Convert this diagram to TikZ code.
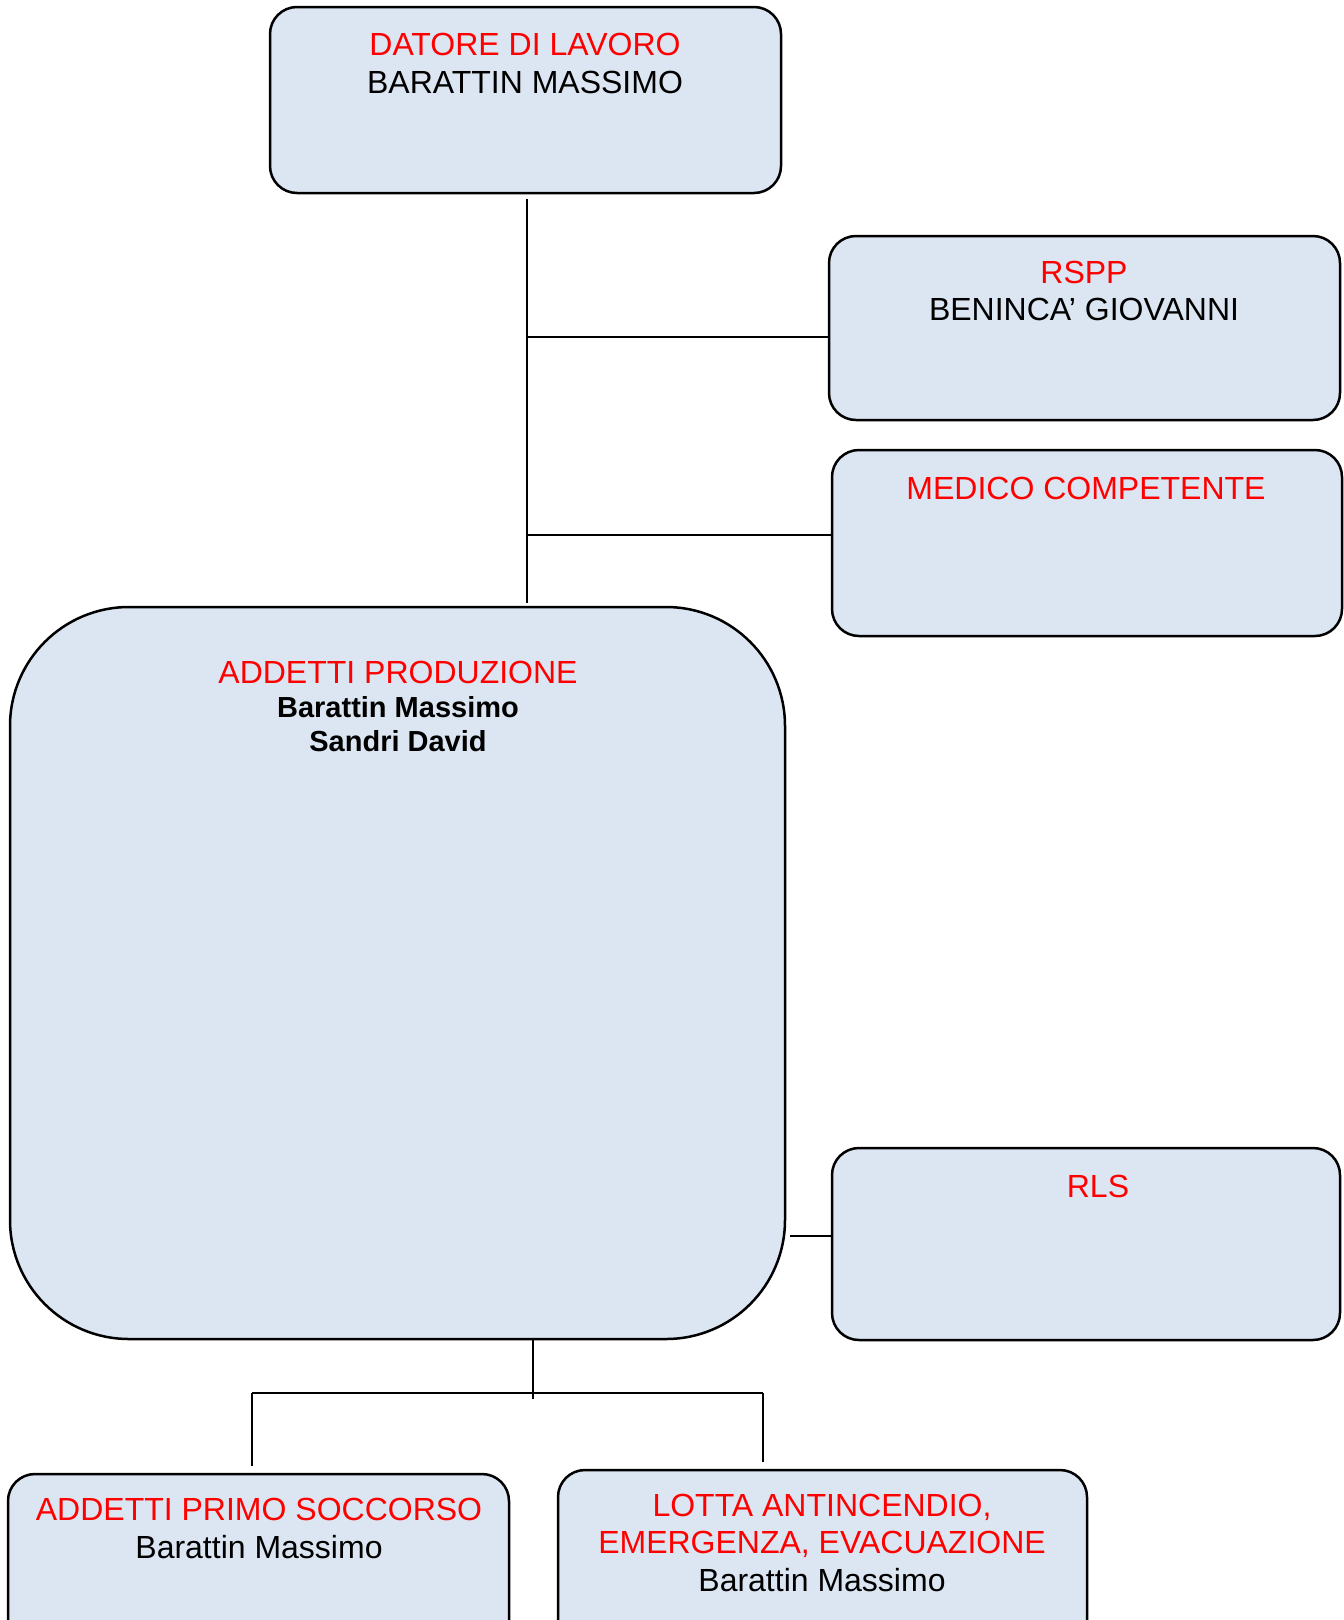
\documentclass[tikz,border=0pt]{standalone}
\usepackage{fontspec}
\setmainfont{Liberation Sans}
\usetikzlibrary{positioning,calc}
\definecolor{boxfill}{RGB}{220,230,242}

\begin{document}
\begin{tikzpicture}[
  x=1pt, y=-1pt,
  font=\fontsize{32}{38}\selectfont,
  box/.style={rectangle, draw=black, fill=boxfill, line width=2.5pt, rounded corners=27pt, inner sep=0pt},
  role/.style={text=red, anchor=base, inner sep=0pt},
  who/.style={text=black, anchor=base, inner sep=0pt},
  boldwho/.style={who, font=\fontsize{29}{34}\selectfont\bfseries},
  link/.style={draw=black, line width=1.3pt}]

\useasboundingbox (0,0) rectangle (1344,1620);
\clip (0,0) rectangle (1344,1620);

% boxes
\node[box, minimum width=511pt, minimum height=186pt] (boss) at (525.5,100) {};
\node[box, minimum width=511pt, minimum height=184pt] (rspp) at (1084.5,328) {};
\node[box, minimum width=510pt, minimum height=186pt] (medico) at (1087,543) {};
\node[box, minimum width=775pt, minimum height=732pt, rounded corners=119pt] (prod) at (397.5,973) {};
\node[box, minimum width=508pt, minimum height=192pt] (rls) at (1086,1244) {};
\node[box, minimum width=501pt, minimum height=186pt] (primo) at (258.5,1567) {};
\node[box, minimum width=529pt, minimum height=186pt] (lotta) at (822.5,1563) {};

% texts
\node[role] (boss-r) at (525,55.5) {DATORE DI LAVORO};
\node[who] (boss-n) at (525,93.5) {BARATTIN MASSIMO};
\node[role] (rspp-r) at (1084,283.5) {RSPP};
\node[who] (rspp-n) at (1084,320.5) {BENINCA’ GIOVANNI};
\node[role] (medico-r) at (1086,499.5) {MEDICO COMPETENTE};
\node[role] (prod-r) at (398,683.5) {ADDETTI PRODUZIONE};
\node[boldwho] (prod-n1) at (398,717) {Barattin Massimo};
\node[boldwho] (prod-n2) at (398,751) {Sandri David};
\node[role] (rls-r) at (1098,1197.5) {RLS};
\node[role] (primo-r) at (259,1520.5) {ADDETTI PRIMO SOCCORSO};
\node[who] (primo-n) at (259,1558.5) {Barattin Massimo};
\node[role] (lotta-r1) at (822,1516.5) {LOTTA ANTINCENDIO,};
\node[role] (lotta-r2) at (822,1553.5) {EMERGENZA, EVACUAZIONE};
\node[who] (lotta-n) at (822,1591.5) {Barattin Massimo};

% connectors
\coordinate (trunk) at (527,199);
\draw[link] (trunk) -- ([yshift=3pt]trunk |- prod.north);
\coordinate (jr) at (527,337);
\draw[link] (jr) -- (jr -| rspp.west);
\coordinate (jm) at (527,535);
\draw[link] (jm) -- (jm -| medico.west);
\coordinate (jl) at (790,1236);
\draw[link] (jl) -- (jl -| rls.west);

\coordinate (jb) at (533,1393);
\coordinate (bl) at (252,1393);
\coordinate (br) at (763,1393);
\draw[link] (jb |- prod.south) -- ([yshift=-6pt]jb);
\draw[link] (bl) -- (br);
\draw[link] (bl) -- ([yshift=7pt]bl |- primo.north);
\draw[link] (br) -- ([yshift=7pt]br |- lotta.north);

\end{tikzpicture}
\end{document}
